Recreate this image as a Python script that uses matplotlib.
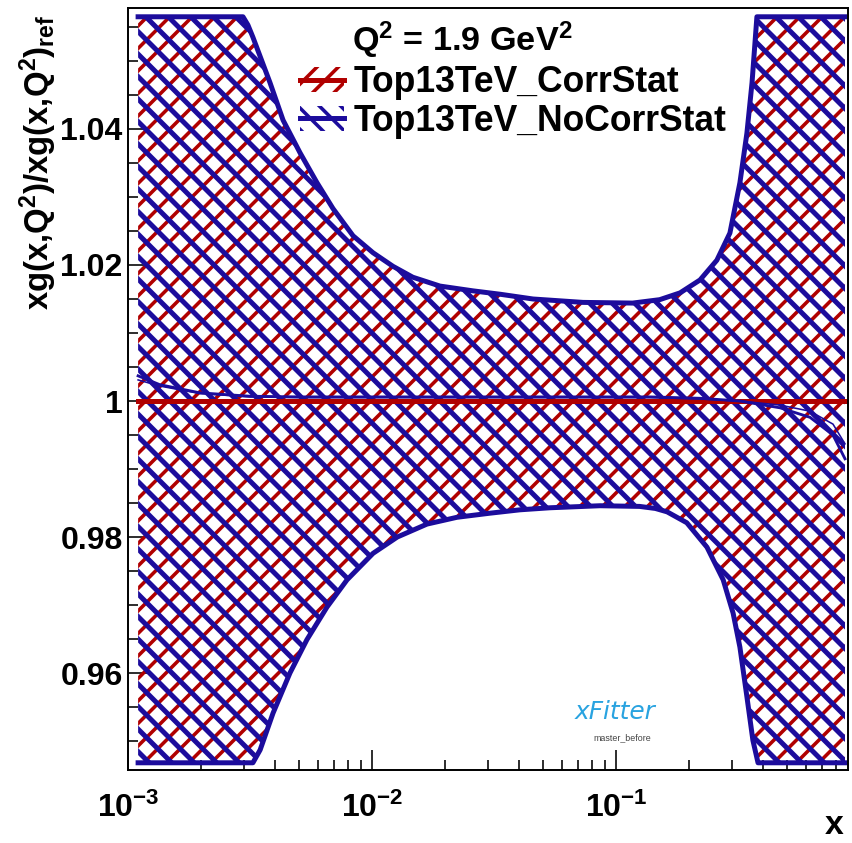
import numpy as np
import matplotlib.pyplot as plt
from matplotlib.collections import LineCollection
from matplotlib.patches import Patch
from matplotlib.lines import Line2D
from matplotlib.ticker import MultipleLocator, LogLocator, NullFormatter, FuncFormatter

plt.rcParams['font.family'] = ['Liberation Sans', 'DejaVu Sans']
plt.rcParams['font.weight'] = 'bold'
plt.rcParams['mathtext.fontset'] = 'custom'
plt.rcParams['mathtext.rm'] = 'Liberation Sans:bold'
plt.rcParams['mathtext.bf'] = 'Liberation Sans:bold'
plt.rcParams['mathtext.it'] = 'Liberation Sans:bold:italic'
plt.rcParams['mathtext.default'] = 'rm'
plt.rcParams['hatch.linewidth'] = 2.0

RED = '#b00000'
BLUE = '#1c0c9c'

# band edges (values outside the frame are clipped, as in the original plot)
x_up = [1.10e-3, 2.96e-3, 3.10e-3, 3.25e-3, 3.82e-3, 4.32e-3, 5.07e-3, 5.95e-3, 6.92e-3, 8.36e-3,
        1.01e-2, 1.22e-2, 1.47e-2, 1.90e-2, 2.59e-2, 3.35e-2, 4.57e-2, 7.32e-2, 0.117, 0.151,
        0.183, 0.221, 0.259, 0.293, 0.322, 0.344, 0.361, 0.378, 0.868]
nocorr_up = [1.0565, 1.0565, 1.0553, 1.0535, 1.0468, 1.0413, 1.0365, 1.0321, 1.0283, 1.0243,
             1.0218, 1.0198, 1.0182, 1.0169, 1.0162, 1.0157, 1.0150, 1.0145, 1.0144, 1.0149,
             1.0159, 1.0178, 1.0207, 1.0247, 1.0321, 1.0394, 1.0468, 1.0565, 1.0565]
corr_up = [1.0565, 1.0565, 1.0551, 1.0532, 1.0464, 1.0410, 1.0362, 1.0319, 1.0281, 1.0242,
           1.0217, 1.0197, 1.0181, 1.0168, 1.0161, 1.0156, 1.0149, 1.0144, 1.0143, 1.0148,
           1.0158, 1.0177, 1.0205, 1.0245, 1.0318, 1.0392, 1.0466, 1.0565, 1.0565]

x_lo = [1.10e-3, 3.25e-3, 3.48e-3, 3.93e-3, 4.61e-3, 5.41e-3, 6.54e-3, 7.90e-3, 1.01e-2, 1.27e-2,
        1.68e-2, 2.23e-2, 3.04e-2, 4.04e-2, 5.36e-2, 8.60e-2, 0.125, 0.145, 0.162, 0.195, 0.236,
        0.275, 0.302, 0.322, 0.344, 0.364, 0.382, 0.868]
nocorr_lo = [0.9468, 0.9468, 0.9487, 0.9541, 0.9600, 0.9649, 0.9697, 0.9737, 0.9776, 0.9800,
             0.9819, 0.9829, 0.9835, 0.9840, 0.9843, 0.9846, 0.9845, 0.9842, 0.9837, 0.9821, 0.9785,
             0.9737, 0.9688, 0.9638, 0.9565, 0.9501, 0.9468, 0.9468]
corr_lo = [0.9468, 0.9468, 0.9490, 0.9544, 0.9603, 0.9651, 0.9699, 0.9739, 0.9777, 0.9801,
           0.9820, 0.9830, 0.9836, 0.9841, 0.9844, 0.9847, 0.9846, 0.9843, 0.9838, 0.9823, 0.9788,
           0.9740, 0.9691, 0.9641, 0.9568, 0.9504, 0.9468, 0.9468]

# central values
x_c = [1.10e-3, 1.35e-3, 1.97e-3, 3.16e-3, 5.07e-3, 0.138, 0.221, 0.322, 0.470, 0.624, 0.775, 0.868]
corr_c = [1.0, 1.0, 1.0, 1.0, 1.0, 1.0, 1.0, 1.0, 1.0, 1.0, 1.0, 1.0]
nocorr_c = [1.0037, 1.0024, 1.0012, 1.0007, 1.0006, 1.0006, 1.0004, 1.0000, 0.9990, 0.9976, 0.9950, 0.9915]
nocorr_c2 = [1.0031, 1.0022, 1.0011, 1.0006, 1.0005, 1.0005, 1.0003, 1.0000, 0.9994, 0.9985, 0.9966, 0.9937]

labels = ['Top13TeV_CorrStat', 'Top13TeV_NoCorrStat']


def hatch_band(ax, xs, ys, color, lw, direction, step=22.5, phase=0.0):
    # ROOT style hatching: 45 degree lines in pixel space, clipped to the band
    poly = ax.fill(xs, ys, facecolor='none', edgecolor='none')[0]
    fig = ax.figure
    bb = ax.get_position()
    W = bb.width * fig.get_figwidth() * fig.dpi
    H = bb.height * fig.get_figheight() * fig.dpi
    segs = []
    u = np.array([-H, W + H])
    for c in np.arange(-W - H + phase, W + 2 * H, step):
        v = u + c if direction == '/' else -u + c
        segs.append(np.column_stack([u / W, v / H]))
    lc = LineCollection(segs, colors=color, linewidths=lw, transform=ax.transAxes,
                        capstyle='butt')
    lc.set_clip_path(poly)
    ax.add_collection(lc, autolim=False)


fig = plt.figure(figsize=(852 / 128, 843 / 128), dpi=128)
ax = fig.add_axes([128 / 852, 1 - 770 / 843, 720 / 852, 762 / 843])

ax.set_xscale('log')
ax.set_xlim(1e-3, 0.893)
ax.set_ylim(0.94574, 1.05779)

xs_corr = x_up + x_lo[::-1]
ys_corr = corr_up + corr_lo[::-1]
xs_nc = x_up + x_lo[::-1]
ys_nc = nocorr_up + nocorr_lo[::-1]

hatch_band(ax, xs_corr, ys_corr, RED, 2.0, '/', phase=11.0)
hatch_band(ax, xs_nc, ys_nc, BLUE, 2.8, '\\', phase=3.0)

ax.plot(x_up, corr_up, color=RED, lw=0.8)
ax.plot(x_lo, corr_lo, color=RED, lw=0.8)
ax.plot(x_up, nocorr_up, color=BLUE, lw=2.8, solid_joinstyle='round')
ax.plot(x_lo, nocorr_lo, color=BLUE, lw=2.8, solid_joinstyle='round')

ax.plot(x_c, corr_c, color=RED, lw=2.8)
ax.plot(x_c, nocorr_c, color=BLUE, lw=1.6)
ax.plot(x_c, nocorr_c2, color=BLUE, lw=0.9)

# axes styling
ax.yaxis.set_major_locator(MultipleLocator(0.02))
ax.yaxis.set_minor_locator(MultipleLocator(0.005))
ax.yaxis.set_major_formatter(FuncFormatter(lambda v, p: f'{round(v, 4):g}'))
ax.xaxis.set_major_locator(LogLocator(base=10))
ax.xaxis.set_minor_locator(LogLocator(base=10, subs=np.arange(2, 10)))
ax.xaxis.set_minor_formatter(NullFormatter())
ax.tick_params(which='both', direction='in', top=False, right=False, width=0.9)
ax.tick_params(which='major', length=11.5)
ax.tick_params(which='minor', length=5.5)
ax.tick_params(axis='y', labelsize=18, pad=3)
ax.tick_params(axis='x', labelsize=18, pad=13)
for s in ax.spines.values():
    s.set_linewidth(1.1)

fig.text(38 / 852, 1 - 15 / 843, 'xg(x,Q$^2$)/xg(x,Q$^2$)$_{ref}$', rotation=90,
         ha='center', va='top', fontsize=18.5, fontweight='bold')
fig.text(834 / 852, 1 - 826 / 843, 'x', ha='center', va='center', fontsize=19, fontweight='bold')

# legend
ax.text((352 - 128) / 720, (770 - 40) / 762, 'Q$^2$ = 1.9 GeV$^2$',
        transform=ax.transAxes, ha='left', va='center', fontsize=19.3, fontweight='bold')
handles = [
    (Patch(facecolor='none', edgecolor=RED, hatch='//', lw=0), Line2D([], [], color=RED, lw=2.8)),
    (Patch(facecolor='none', edgecolor=BLUE, hatch='\\\\', lw=0), Line2D([], [], color=BLUE, lw=2.8)),
]
ax.legend(handles, labels, loc='upper left', bbox_to_anchor=((300 - 128) / 720, (770 - 65) / 762),
          frameon=False, fontsize=20, handlelength=1.25, handletextpad=0.25, labelspacing=0.1,
          borderpad=0, borderaxespad=0)

# xFitter logo text
ax.text((615 - 128) / 720, (770 - 712) / 762, 'xFitter', transform=ax.transAxes,
        ha='center', va='center', fontsize=14, color='#29a3e0', style='italic',
        fontweight='normal', family='DejaVu Sans')
ax.text((622 - 128) / 720, (770 - 738) / 762, 'master_before', transform=ax.transAxes,
        ha='center', va='center', fontsize=5, color='#444444', fontweight='normal')

fig.savefig('out.png', dpi=128)
